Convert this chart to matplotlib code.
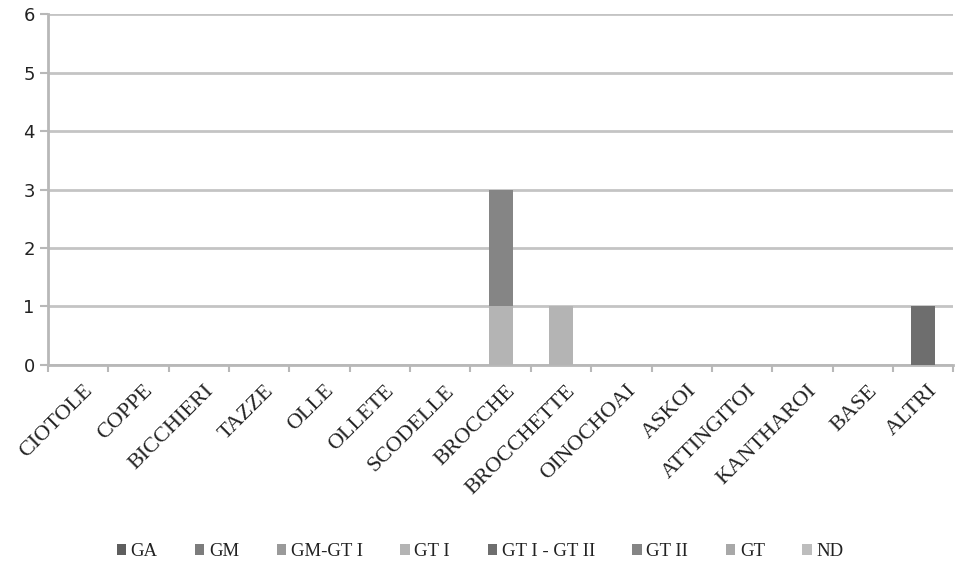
import matplotlib
matplotlib.use("Agg")
import matplotlib.pyplot as plt
import numpy as np

categories = ["CIOTOLE", "COPPE", "BICCHIERI", "TAZZE", "OLLE", "OLLETE", "SCODELLE",
              "BROCCHE", "BROCCHETTE", "OINOCHOAI", "ASKOI", "ATTINGITOI", "KANTHAROI",
              "BASE", "ALTRI"]
series_names = ["GA", "GM", "GM-GT I", "GT I", "GT I - GT II", "GT II", "GT", "ND"]
series_colors = ["#5e5e5e", "#7c7c7c", "#9a9a9a", "#b4b4b4", "#6e6e6e", "#858585", "#a8a8a8", "#bdbdbd"]

zeros = [0] * 15
ga = list(zeros)
gm = list(zeros)
gm_gt1 = list(zeros)
gt1 = [0, 0, 0, 0, 0, 0, 0, 1, 1, 0, 0, 0, 0, 0, 0]
gt1_gt2 = [0, 0, 0, 0, 0, 0, 0, 0, 0, 0, 0, 0, 0, 0, 1]
gt2 = [0, 0, 0, 0, 0, 0, 0, 2, 0, 0, 0, 0, 0, 0, 0]
gt = list(zeros)
nd = list(zeros)
series_values = [ga, gm, gm_gt1, gt1, gt1_gt2, gt2, gt, nd]

fig = plt.figure(figsize=(9.6, 5.7), dpi=100)
ax = fig.add_axes([0.05, 0.36, 0.943, 0.615])

x = np.arange(len(categories))
bottom = np.zeros(len(categories))
for name, color, vals in zip(series_names, series_colors, series_values):
    vals = np.array(vals, dtype=float)
    ax.bar(x, vals, width=0.4, bottom=bottom, color=color, label=name, zorder=3)
    bottom += vals

ax.set_xlim(-0.5, len(categories) - 0.5)
ax.set_ylim(0, 6)
ax.set_yticks(range(7))
ax.yaxis.grid(True, color="#c4c4c4", linewidth=2, zorder=0)
ax.set_axisbelow(True)

for side in ["top", "right"]:
    ax.spines[side].set_visible(False)
ax.spines["left"].set_color("#b8b8b8")
ax.spines["left"].set_linewidth(2)
ax.spines["bottom"].set_color("#b8b8b8")
ax.spines["bottom"].set_linewidth(2)

ax.set_xticks(x + 0.08)
ax.set_xticklabels(categories, rotation=45, ha="right", rotation_mode="anchor",
                   fontsize=16, family="Liberation Serif", color="#222222")
ax.tick_params(axis="x", length=0, pad=12)
ax.set_xticks(np.arange(-0.5, len(categories), 1), minor=True)
ax.tick_params(axis="x", which="minor", length=5, color="#b8b8b8", width=1.5)
ax.tick_params(axis="y", length=6, color="#b8b8b8", width=1.5, labelsize=13,
               labelcolor="#222222")

fig.legend(loc="lower center", bbox_to_anchor=(0.5, -0.012), ncol=8, frameon=False,
           prop={"family": "Liberation Serif", "size": 13.5}, handlelength=0.5,
           handleheight=0.5, handletextpad=0.25, columnspacing=2.0,
           labelcolor="#222222")

fig.savefig("out.png", dpi=100)
